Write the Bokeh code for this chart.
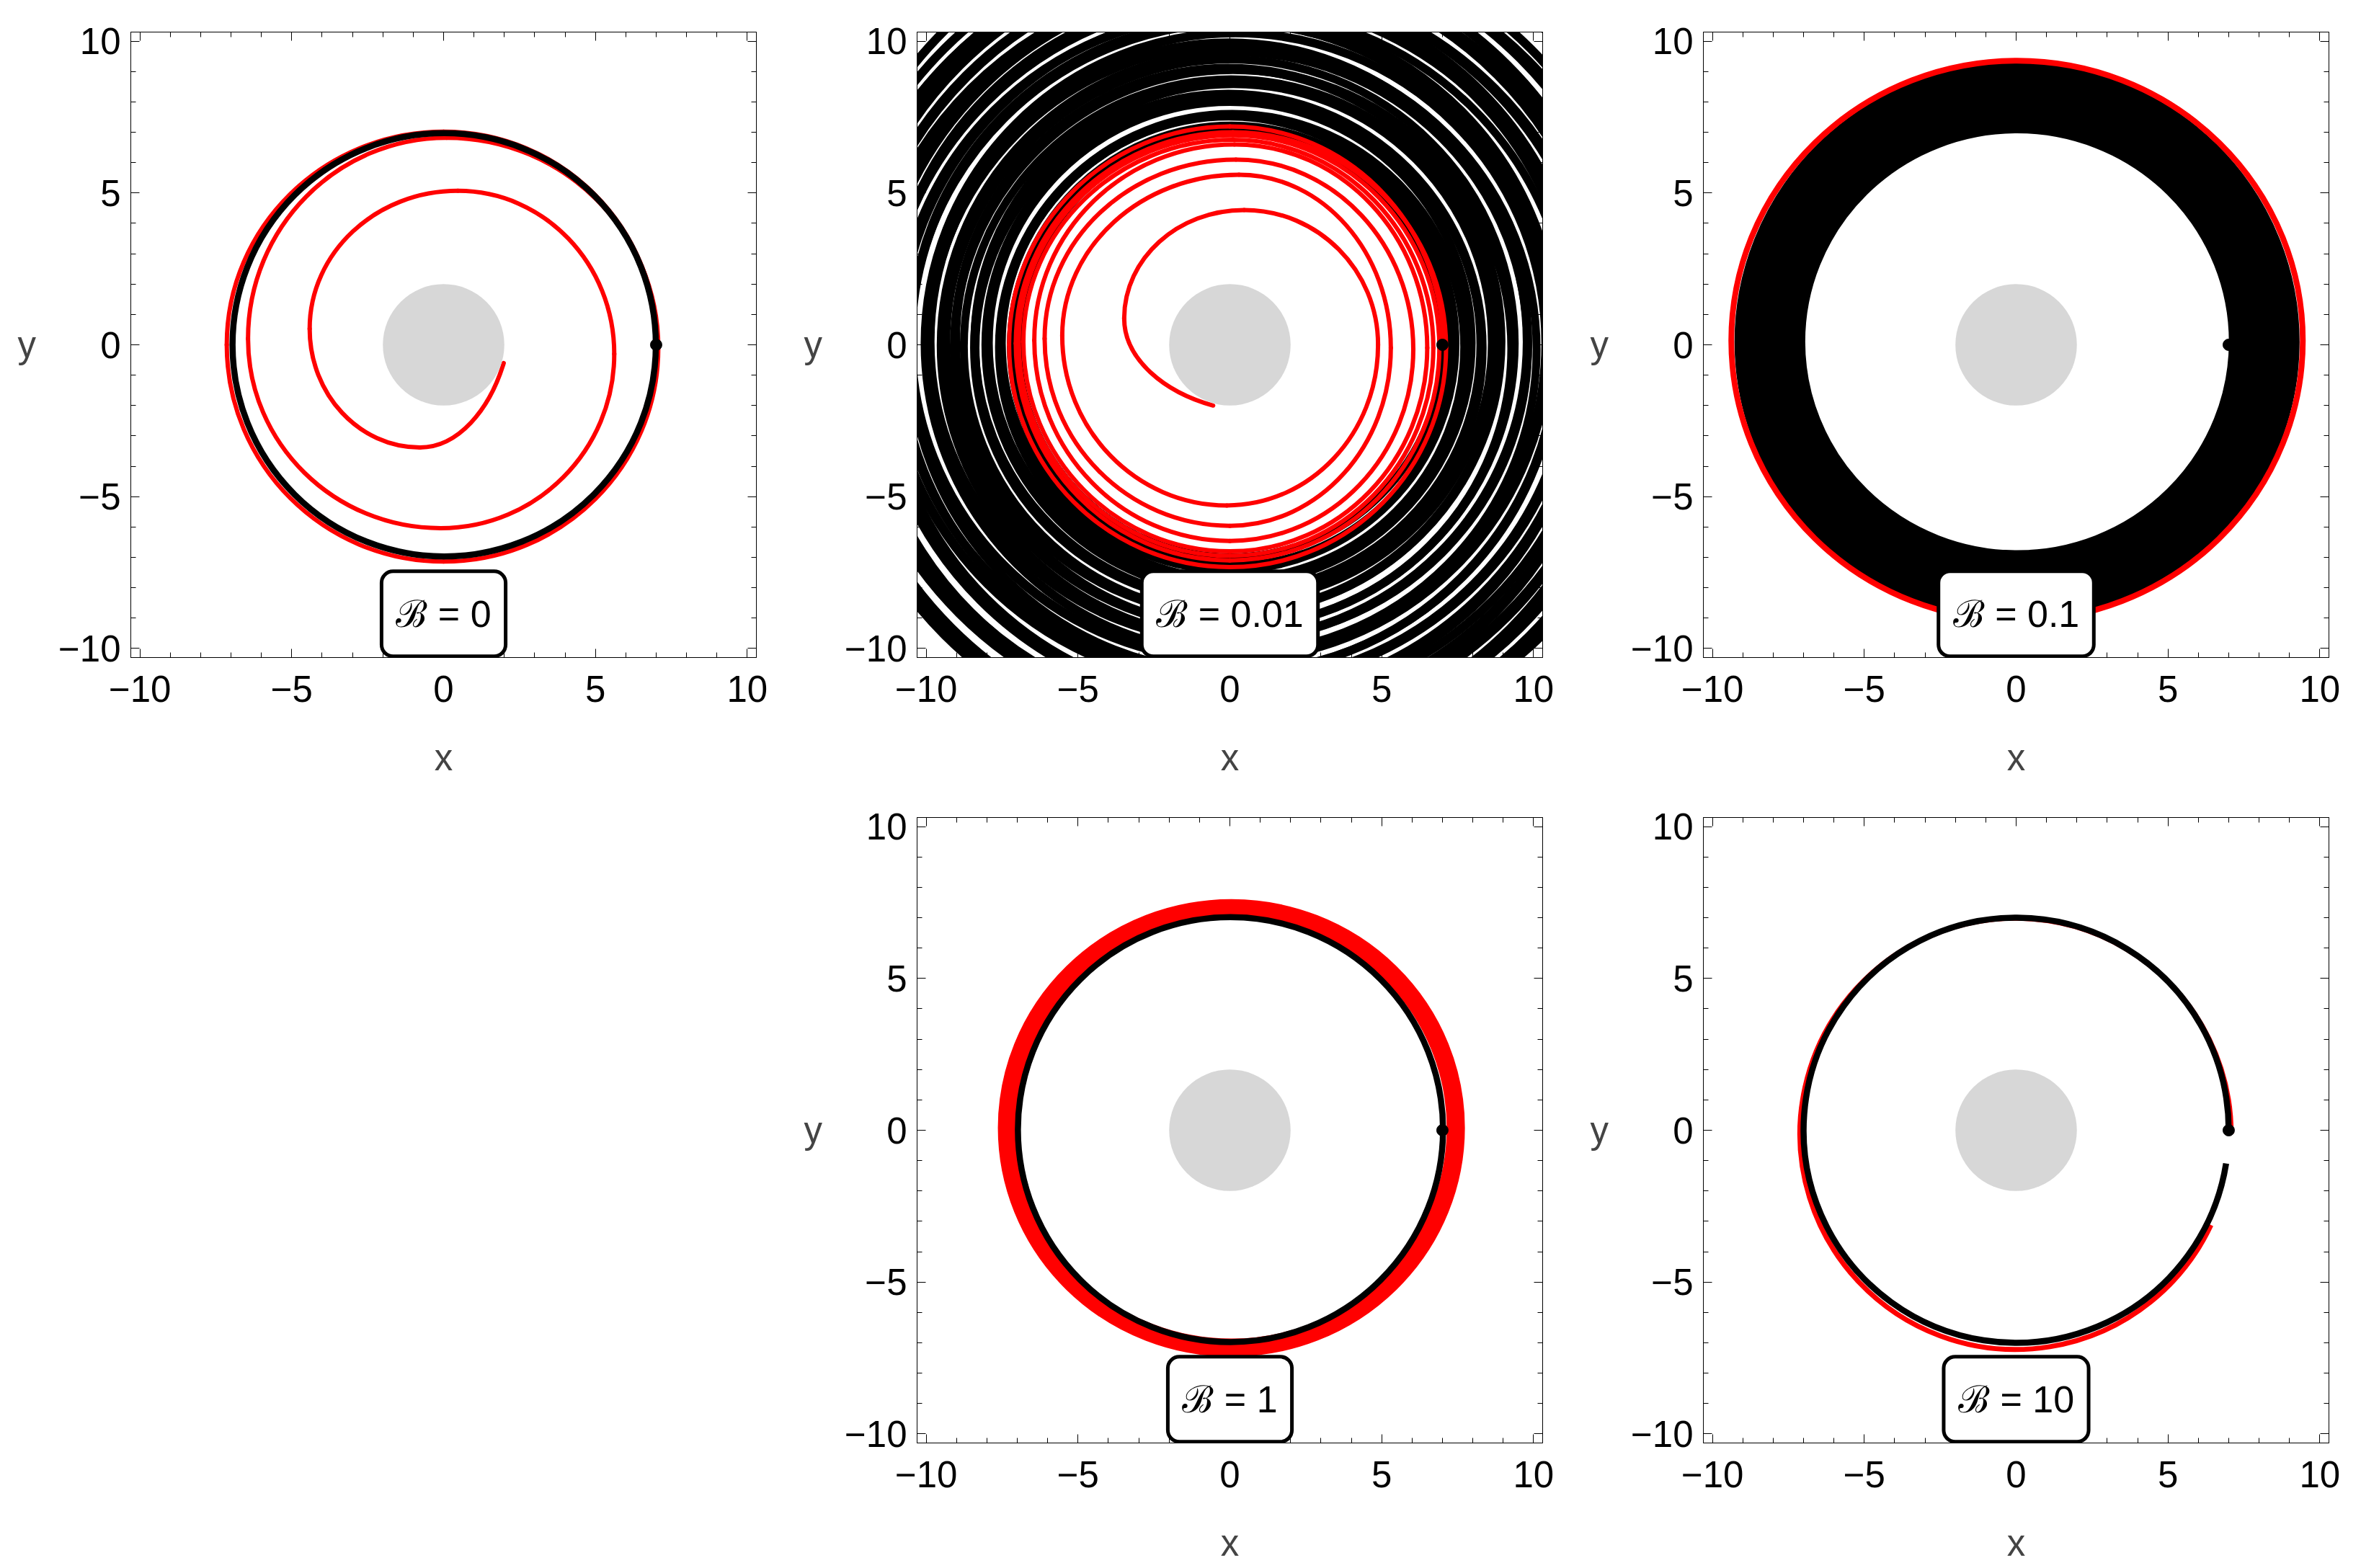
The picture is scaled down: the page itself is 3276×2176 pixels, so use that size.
import math
from bokeh.plotting import figure
from bokeh.models import Range1d, LinearAxis, SingleIntervalTicker, Label, Spacer
from bokeh.layouts import row, column
from bokeh.embed import file_html
from bokeh.resources import INLINE

# ---------------- data ----------------
panel_labels = ["ℬ = 0", "ℬ = 0.01", "ℬ = 0.1", "ℬ = 1", "ℬ = 10"]
tick_values = [-10, -5, 0, 5, 10]
tick_texts = ["−10", "−5", "0", "5", "10"]
start_x = [7.0]
start_y = [0.0]
horizon_r = 2.0

# B = 0 : red spiral, quarter-turn extreme points (CCW from start), end point
red1_x = [7.02, 0.0, -7.14, 0.0, 7.07, 0.1, -6.44, -0.1, 5.62, 0.47, -4.41, -0.78]
red1_y = [0.0, 7.02, 0.0, -7.14, -0.1, 6.82, 0.2, -6.04, -0.3, 5.07, 0.53, -3.38]
red1_end = (1.98, -0.6)
black1_c = (0.02, 0.0)
black1_r = 6.97

# B = 0.01 : red spiral
red2_x = [7.02, 0.0, -7.27, 0.0, 7.12, 0.1, -7.05, 0.0, 6.9, 0.1, -6.95, 0.0,
          6.7, 0.1, -6.8, 0.0, 6.5, 0.15, -6.44, 0.0, 6.04, 0.2, -6.1, 0.0,
          5.3, 0.3, -5.52, -0.1, 4.88, 0.47, -3.48]
red2_y = [0.0, 7.19, 0.0, -7.32, -0.1, 7.0, 0.05, -7.1, -0.1, 6.9, 0.1, -6.95,
          -0.1, 6.75, 0.1, -6.8, -0.1, 6.6, 0.15, -6.46, -0.15, 6.1, 0.2, -5.96,
          -0.1, 5.6, 0.3, -5.29, 0.0, 4.44, 0.87]
red2_end = (-0.55, -2.0)
# B = 0.01 : black chaotic orbit, loops as rings
black2_r = [7.00, 7.25, 7.47, 7.66, 7.95, 8.15, 8.35, 8.52, 8.80, 8.98, 9.18, 9.36,
            9.66, 9.84, 10.02, 10.22, 10.50, 10.68, 10.88, 11.06, 11.36, 11.55,
            11.73, 11.92, 12.20, 12.38, 12.58, 12.76, 13.05, 13.25, 13.45, 13.65,
            14.0]
black2_cx = [0.02, 0.05, -0.04, 0.08, 0.0, 0.1, -0.05, 0.12, 0.04, -0.06, 0.1, 0.02,
             0.15, -0.04, 0.08, 0.18, 0.0, 0.12, -0.08, 0.2, 0.06, 0.14, -0.02, 0.22,
             0.1, 0.05, 0.25, 0.12, 0.0, 0.2, 0.3, 0.25, 0.5]
black2_cy = [0.0, -0.04, 0.05, -0.08, 0.06, 0.0, -0.1, 0.08, -0.05, 0.12, -0.12, 0.04,
             -0.02, 0.1, -0.15, 0.05, 0.14, -0.1, 0.02, -0.05, 0.16, -0.18, 0.08, 0.0,
             -0.2, 0.12, -0.06, 0.18, -0.1, 0.05, -0.15, 0.1, 0.45]
black2_w = [11, 12, 11, 13, 12, 11, 13, 12, 11, 13, 12, 11, 12, 13, 11, 12, 13, 11,
            12, 11, 13, 12, 11, 12, 13, 11, 12, 13, 11, 12, 13, 12, 12]

# B = 0.1 : black band (ellipse centre, semi-axes) and red outer ring
black3_c = (0.03, 0.1)
black3_ab = (8.14, 8.03)
black3_band = 2.33
red3_c = (0.03, 0.135)
red3_ab = (9.41, 9.22)

# B = 1 : red thick band and black circle
red4_c = (0.05, 0.075)
red4_ab = (7.39, 7.235)
red4_band = 0.6
black4_c = (0.02, 0.02)
black4_r = 7.0

# B = 10 : arcs (centre, radius, end angle in degrees)
red5_c = (-0.02, -0.12)
red5_r = 7.1
red5_end_deg = -25.0
black5_c = (0.0, 0.0)
black5_r = 7.0
black5_end_deg = -9.0

# ---------------- helpers ----------------
FONT = "Liberation Sans"
FS = "51px"
FRAME = 868
PX_PER_UNIT = FRAME / 20.6


def make_fig(left=181, right=42, top=44, bottom=178):
    p = figure(frame_width=FRAME, frame_height=FRAME,
               x_range=Range1d(-10.3, 10.3), y_range=Range1d(-10.3, 10.3),
               output_backend="svg", toolbar_location=None,
               min_border_left=left, min_border_right=right,
               min_border_top=top, min_border_bottom=bottom,
               background_fill_color="white", border_fill_color="white",
               outline_line_color="black", outline_line_width=1)
    p.xgrid.visible = False
    p.ygrid.visible = False
    p.add_layout(LinearAxis(), "above")
    p.add_layout(LinearAxis(), "right")
    overrides = {v: t for v, t in zip(tick_values, tick_texts)}
    for ax in p.axis:
        ax.ticker = SingleIntervalTicker(interval=5, num_minor_ticks=5)
        ax.axis_line_color = "black"
        ax.axis_line_width = 1
        ax.major_tick_in = 12
        ax.major_tick_out = 0
        ax.minor_tick_in = 7
        ax.minor_tick_out = 0
        ax.major_tick_line_color = "black"
        ax.minor_tick_line_color = "black"
        ax.major_label_text_font = FONT
        ax.major_label_text_font_size = FS
        ax.major_label_text_color = "black"
        ax.major_label_overrides = overrides
        ax.major_label_standoff = 14
    for ax in p.above + p.right:
        if isinstance(ax, LinearAxis):
            ax.major_label_text_font_size = "0px"
            ax.major_label_text_color = None
            ax.major_label_standoff = 0
    bx = p.below[0]
    bx.major_label_standoff = 25
    bx.axis_label = "x"
    bx.axis_label_text_font = FONT
    bx.axis_label_text_font_size = FS
    bx.axis_label_text_font_style = "normal"
    bx.axis_label_standoff = 46
    ly = p.left[0]
    ly.axis_label = "y"
    ly.axis_label_text_font = FONT
    ly.axis_label_text_font_size = FS
    ly.axis_label_text_font_style = "normal"
    ly.axis_label_orientation = "horizontal"
    ly.axis_label_standoff = 28
    return p


def beziers(xs, ys, end):
    ex, ey = end
    pts = [(xs[i], ys[i], i * math.pi / 2) for i in range(len(xs))]
    th_last = pts[-1][2]
    a = math.atan2(ey, ex)
    while a <= th_last:
        a += 2 * math.pi
    pts.append((ex, ey, a))
    d = dict(x0=[], y0=[], x1=[], y1=[], cx0=[], cy0=[], cx1=[], cy1=[])
    for (px, py, tp), (qx, qy, tq) in zip(pts[:-1], pts[1:]):
        phi = tq - tp
        k = 4.0 / 3.0 * math.tan(phi / 4) / math.sin(phi)
        tpx, tpy = -math.sin(tp), math.cos(tp)
        tqx, tqy = -math.sin(tq), math.cos(tq)
        dx, dy = qx - px, qy - py
        d0 = dx * tpx + dy * tpy
        d1 = dx * tqx + dy * tqy
        d["x0"].append(px); d["y0"].append(py)
        d["x1"].append(qx); d["y1"].append(qy)
        d["cx0"].append(px + k * d0 * tpx); d["cy0"].append(py + k * d0 * tpy)
        d["cx1"].append(qx - k * d1 * tqx); d["cy1"].append(qy - k * d1 * tqy)
    return d


def add_common(p, label):
    p.circle(x=[0.0], y=[0.0], radius=horizon_r, fill_color="#d7d7d7", line_color=None)
    p.scatter(x=start_x, y=start_y, size=16, color="black")
    p.add_layout(Label(x=0, y=-8.86, text=label, text_align="center",
                       text_baseline="middle", text_font=FONT, text_font_size="52px",
                       text_color="black", background_fill_color="white",
                       border_line_color="black", border_line_width=5,
                       border_radius=16, padding=(20, 30)))


# ---------------- panel 1 : B = 0 ----------------
p1 = make_fig()
p1.bezier(**beziers(red1_x, red1_y, red1_end), line_color="red", line_width=6, line_cap="round")
p1.circle(x=[black1_c[0]], y=[black1_c[1]], radius=black1_r, fill_color=None,
          line_color="black", line_width=8.5)
add_common(p1, panel_labels[0])

# ---------------- panel 2 : B = 0.01 ----------------
p2 = make_fig()
p2.ellipse(x=black2_cx, y=black2_cy, width=[2 * r for r in black2_r],
           height=[2 * r for r in black2_r], fill_color=None, line_color="black",
           line_width=black2_w)
p2.bezier(**beziers(red2_x, red2_y, red2_end), line_color="red", line_width=6, line_cap="round")
add_common(p2, panel_labels[1])

# ---------------- panel 3 : B = 0.1 ----------------
p3 = make_fig(right=40)
p3.ellipse(x=[black3_c[0]], y=[black3_c[1]], width=[2 * black3_ab[0]],
           height=[2 * black3_ab[1]], fill_color=None, line_color="black",
           line_width=black3_band * PX_PER_UNIT)
p3.ellipse(x=[red3_c[0]], y=[red3_c[1]], width=[2 * red3_ab[0]], height=[2 * red3_ab[1]],
           fill_color=None, line_color="red", line_width=8)
add_common(p3, panel_labels[2])

# ---------------- panel 4 : B = 1 ----------------
p4 = make_fig(bottom=170)
p4.ellipse(x=[red4_c[0]], y=[red4_c[1]], width=[2 * red4_ab[0]], height=[2 * red4_ab[1]],
           fill_color=None, line_color="red", line_width=red4_band * PX_PER_UNIT)
p4.circle(x=[black4_c[0]], y=[black4_c[1]], radius=black4_r, fill_color=None,
          line_color="black", line_width=8.5)
add_common(p4, panel_labels[3])

# ---------------- panel 5 : B = 10 ----------------
p5 = make_fig(right=40, bottom=170)
p5.arc(x=[red5_c[0]], y=[red5_c[1]], radius=red5_r, start_angle=0.0,
       end_angle=math.radians(red5_end_deg), direction="anticlock",
       line_color="red", line_width=7)
p5.arc(x=[black5_c[0]], y=[black5_c[1]], radius=black5_r, start_angle=0.0,
       end_angle=math.radians(black5_end_deg), direction="anticlock",
       line_color="black", line_width=8.5)
add_common(p5, panel_labels[4])

layout = column(row(p1, p2, p3),
                row(Spacer(width=1091, height=1082), p4, p5))

open("out.html", "w").write(file_html(layout, INLINE))
